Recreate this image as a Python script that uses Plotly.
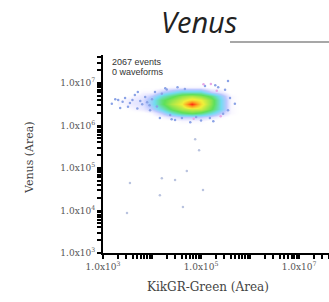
import math
import plotly.graph_objects as go

# ---- data (log10 values) ----
grid_log_kikgr = [3.4, 3.6, 3.8, 4.0, 4.2, 4.4, 4.6, 4.8, 5.0, 5.2, 5.4, 5.6, 5.8]
grid_log_venus = [6.0, 6.1, 6.2, 6.3, 6.4, 6.5, 6.6, 6.7, 6.8, 6.9, 7.0]
density = [
    [0, 0, 0, 0, 0, 0, 0, 0, 0, 0, 0, 0, 0],
    [0, 0, 0, 0, 0, 0, 0.3, 0.3, 0.3, 0, 0, 0, 0],
    [0, 0, 0, 0, 0.3, 0.8, 1.2, 1.2, 1.2, 0.8, 0.3, 0, 0],
    [0, 0, 0, 0.3, 1.2, 2.5, 3.5, 4, 3.5, 2.5, 1.2, 0.3, 0],
    [0, 0.3, 0.6, 1.2, 2.5, 4, 5, 5.5, 5.5, 4, 2.2, 0.3, 0],
    [0.3, 0.6, 0.8, 1.8, 3.5, 5, 6, 10, 6.5, 4.5, 2.2, 0.3, 0],
    [0.3, 0.6, 0.8, 1.8, 3.5, 4.5, 5.5, 6.5, 6, 4.5, 2.2, 0.3, 0],
    [0, 0.3, 0.6, 1.2, 2.5, 3.5, 4.5, 5, 4.5, 3.5, 1.8, 0.3, 0],
    [0, 0, 0.3, 0.3, 1.2, 1.8, 2.5, 2.5, 2.5, 1.2, 0.6, 0, 0],
    [0, 0, 0, 0, 0, 0.3, 0.3, 0.3, 0.3, 0, 0, 0, 0],
    [0, 0, 0, 0, 0, 0, 0, 0, 0, 0, 0, 0, 0],
]

halo_log_kikgr = [3.31, 3.45, 3.55, 3.65, 3.76, 3.86, 3.51, 3.96, 3.71, 4.06, 4.16, 4.37, 4.47,
                  4.61, 4.78, 5.18, 5.49, 5.59, 5.29, 5.08, 5.55, 5.55, 3.18, 3.35, 4.27, 4.67, 5.69,
                  3.40, 3.60, 3.90, 4.00, 3.80, 4.10, 4.30, 4.52, 4.90, 5.35, 5.45, 3.25, 3.70,
                  3.95, 4.20, 4.40, 5.00, 5.25]
halo_log_venus = [6.60, 6.65, 6.53, 6.72, 6.58, 6.67, 6.44, 6.36, 6.79, 6.79, 6.18, 6.25, 6.13,
                  6.18, 6.08, 6.18, 6.84, 6.65, 6.95, 6.93, 6.36, 7.05, 6.51, 6.41, 6.88, 6.86, 6.51,
                  6.56, 6.60, 6.55, 6.62, 6.50, 6.45, 6.85, 6.90, 6.20, 6.90, 6.28, 6.62, 6.40,
                  6.48, 6.75, 6.15, 6.12, 6.10]

pink_log_kikgr = [5.05, 5.20, 5.32, 4.85, 5.40]
pink_log_venus = [6.97, 6.98, 6.82, 6.16, 6.22]

outlier_log_kikgr = [4.88, 4.96, 4.71, 4.47, 4.20, 3.55, 5.04, 4.16, 3.49, 4.63]
outlier_log_venus = [5.68, 5.42, 4.93, 4.72, 4.76, 4.65, 4.48, 4.36, 3.94, 4.08]

x_label_exp = [3, 5, 7]
y_label_exp = [3, 4, 5, 6, 7]

title_text = "Venus"
x_title = "KikGR-Green (Area)"
y_title = "Venus (Area)"
events_text = "2067 events"
waveforms_text = "0 waveforms"

X_RANGE = [3, 7.61]
Y_RANGE = [3, 7.66]


def tick_set(label_exps):
    vals, texts = [], []
    for d in range(3, 8):
        for k in range(1, 10):
            v = d + math.log10(k)
            vals.append(round(v, 4))
            texts.append("1.0x10<sup>%d</sup>" % d if (k == 1 and d in label_exps) else " ")
    return vals, texts


x_tick_vals, x_tick_text = tick_set(x_label_exp)
y_tick_vals, y_tick_text = tick_set(y_label_exp)

fig = go.Figure()
fig.add_trace(go.Heatmap(
    x=grid_log_kikgr, y=grid_log_venus, z=density,
    zmin=0, zmax=10, zsmooth="best", showscale=False, hoverinfo="skip",
    colorscale=[
        [0.0, "rgba(255,255,255,0)"],
        [0.04, "rgba(225,220,255,0.4)"],
        [0.12, "#bcc8ff"],
        [0.22, "#72dcf2"],
        [0.38, "#5ee05a"],
        [0.6, "#f2f03a"],
        [0.8, "#ff9a20"],
        [1.0, "#ff2a10"],
    ],
))
fig.add_trace(go.Scatter(
    x=halo_log_kikgr, y=halo_log_venus, mode="markers",
    marker=dict(size=2.5, color="#8aa2e6"), hoverinfo="skip", showlegend=False))
fig.add_trace(go.Scatter(
    x=pink_log_kikgr, y=pink_log_venus, mode="markers",
    marker=dict(size=2.5, color="#e6a8e6"), hoverinfo="skip", showlegend=False))
fig.add_trace(go.Scatter(
    x=outlier_log_kikgr, y=outlier_log_venus, mode="markers",
    marker=dict(size=2.5, color="#b9c3df"), hoverinfo="skip", showlegend=False))

tick_font = dict(family="DejaVu Serif, serif", size=9, color="#555")

fig.update_layout(
    width=329, height=302,
    margin=dict(l=103, r=0, t=55, b=49),
    paper_bgcolor="white", plot_bgcolor="white",
    showlegend=False,
    xaxis=dict(
        range=X_RANGE, showgrid=False, zeroline=False,
        showline=True, linecolor="black", linewidth=2,
        tickmode="array", tickvals=x_tick_vals, ticktext=x_tick_text, tickfont=tick_font,
        tickangle=0,
        ticks="outside", ticklen=4, tickcolor="black", tickwidth=1.5,
    ),
    yaxis=dict(
        range=Y_RANGE, showgrid=False, zeroline=False,
        showline=True, linecolor="black", linewidth=2,
        tickmode="array", tickvals=y_tick_vals, ticktext=y_tick_text, tickfont=tick_font,
        tickangle=0,
        ticks="outside", ticklen=4, tickcolor="black", tickwidth=1.5,
    ),
    annotations=[
        dict(text="<i>" + title_text + "</i>", xref="paper", yref="paper", x=0.425, y=1.167,
             showarrow=False, font=dict(family="Open Sans", size=29, color="#222"),
             xanchor="center", yanchor="middle"),
        dict(text=events_text, xref="paper", yref="paper", x=0.031, y=0.965,
             showarrow=False, font=dict(family="Liberation Sans", size=9, color="#333"),
             xanchor="left", yanchor="middle"),
        dict(text=waveforms_text, xref="paper", yref="paper", x=0.031, y=0.914,
             showarrow=False, font=dict(family="Liberation Sans", size=9, color="#333"),
             xanchor="left", yanchor="middle"),
        dict(text=y_title, xref="paper", yref="paper", x=-0.323, y=0.48, textangle=-90,
             showarrow=False, font=dict(family="DejaVu Serif", size=11, color="#444"),
             xanchor="center", yanchor="middle"),
        dict(text=x_title, xref="paper", yref="paper", x=0.465, y=-0.172,
             showarrow=False, font=dict(family="DejaVu Serif", size=12, color="#444"),
             xanchor="center", yanchor="middle"),
    ],
    shapes=[
        dict(type="line", xref="paper", yref="paper", x0=0.562, x1=1.0, y0=1.066, y1=1.066,
             line=dict(color="#8a8a8a", width=1.5)),
    ],
)

fig.write_html("out.html", config={"displayModeBar": False},
               post_script="document.body.style.margin='0';")
